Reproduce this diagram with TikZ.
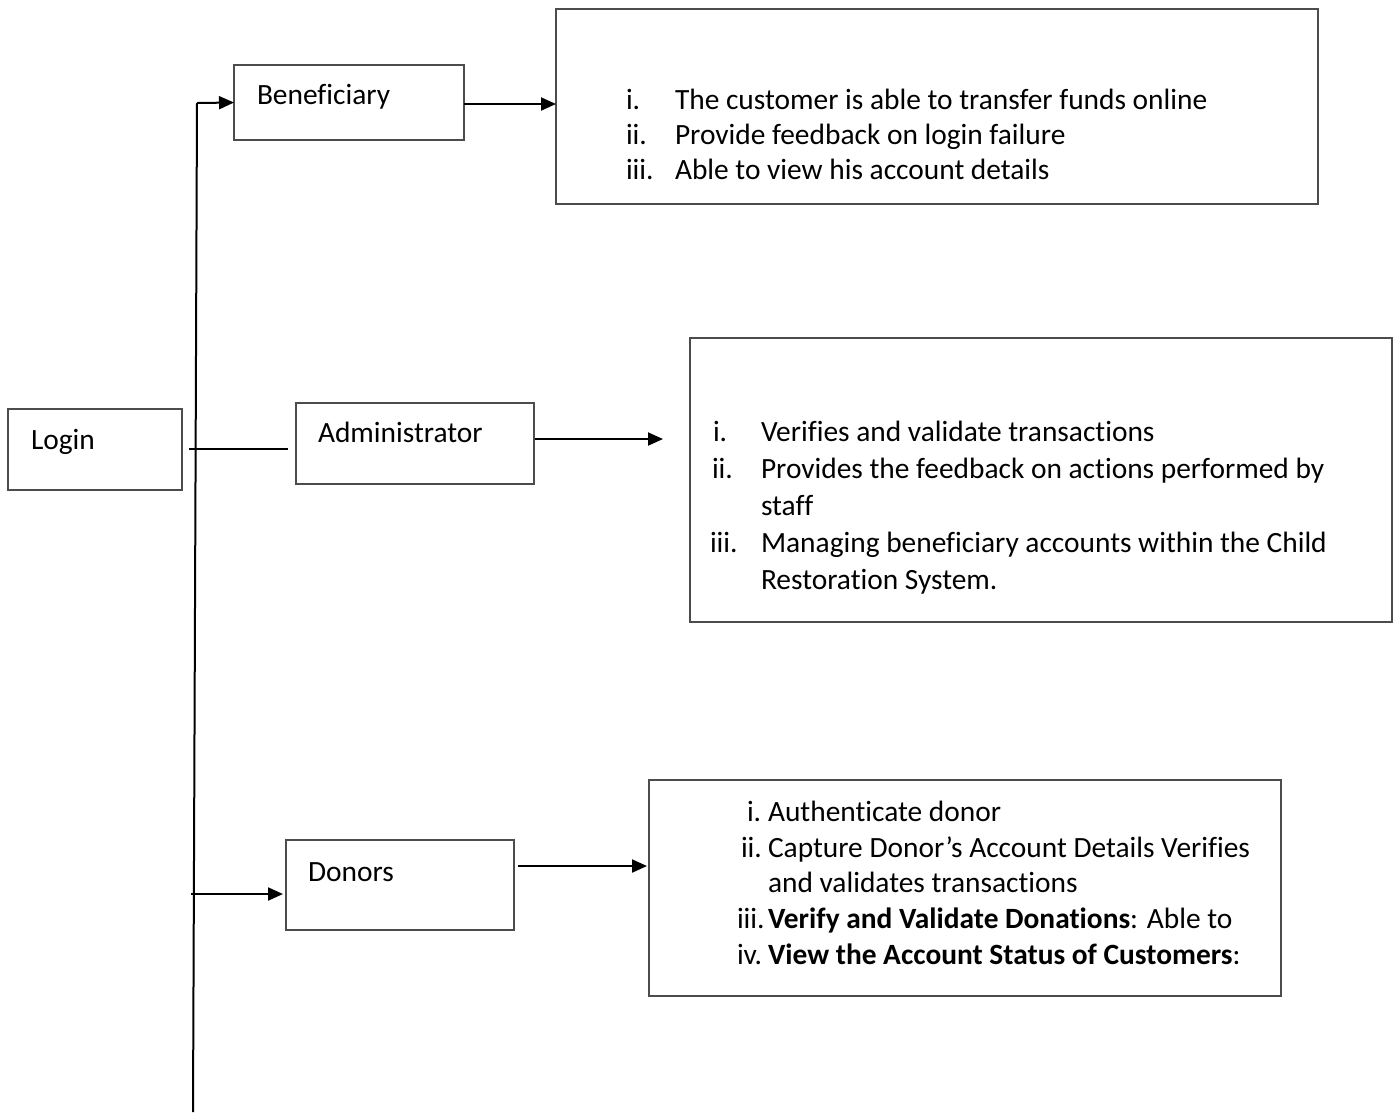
\documentclass[tikz,border=0pt]{standalone}
\usepackage{fontspec}
\setmainfont{Carlito}[Ligatures=NoCommon]
\usetikzlibrary{arrows.meta}
\begin{document}
\begin{tikzpicture}[x=0.5pt,y=-0.5pt,
  font=\fontsize{14.7pt}{17pt}\selectfont,
  box/.style={draw=black!70,line width=0.6pt,inner sep=0pt,outer sep=0pt,anchor=north west},
  txt/.style={anchor=base west,inner sep=0pt,outer sep=0pt},
  conn/.style={line width=1pt,black},
  arr/.style={conn,-{Triangle[length=7.5pt,width=6.5pt]}}]
\useasboundingbox (0,0) rectangle (1400,1116);

% boxes
\node[box,minimum width=87pt,minimum height=40.5pt] (login) at (8,409) {};
\node[box,minimum width=115pt,minimum height=37.5pt] (benef) at (234,65) {};
\node[box,minimum width=381pt,minimum height=97.5pt] (blist) at (556,9) {};
\node[box,minimum width=119pt,minimum height=40.5pt] (admin) at (296,403) {};
\node[box,minimum width=351pt,minimum height=142pt] (alist) at (690,338) {};
\node[box,minimum width=114pt,minimum height=45pt] (donor) at (286,840) {};
\node[box,minimum width=316pt,minimum height=108pt] (dlist) at (649,780) {};

% box titles
\node[txt] (tlogin) at (31,449) {Login};
\node[txt] (tbenef) at (257,104) {Beneficiary};
\node[txt] (tadmin) at (318,442) {Administrator};
\node[txt] (tdonor) at (308,881) {Donors};

% beneficiary duties
\node[txt] (b1n) at (626,109) {i.};
\node[txt] (b1) at (675,109) {The customer is able to transfer funds online};
\node[txt] (b2n) at (626,144) {ii.};
\node[txt] (b2) at (675,144) {Provide feedback on login failure};
\node[txt] (b3n) at (626,179) {iii.};
\node[txt] (b3) at (675,179) {Able to view his account details};

% administrator duties
\node[txt] (a1n) at (713,441) {i.};
\node[txt] (a1) at (761,441) {Verifies and validate transactions};
\node[txt] (a2n) at (712,478) {ii.};
\node[txt] (a2) at (761,478) {Provides the feedback on actions performed by};
\node[txt] (a2b) at (761,515) {staff};
\node[txt] (a3n) at (710,552) {iii.};
\node[txt] (a3) at (761,552) {Managing beneficiary accounts within the Child};
\node[txt] (a3b) at (761,589) {Restoration System.};

% donor duties
\node[txt] (d1n) at (747,821) {i.};
\node[txt] (d1) at (768,821) {Authenticate donor};
\node[txt] (d2n) at (741,857) {ii.};
\node[txt] (d2) at (768,857) {Capture Donor’s Account Details Verifies};
\node[txt] (d2b) at (768,892) {and validates transactions};
\node[txt] (d3n) at (737,928) {iii.};
\node[txt] (d3) at (768,928) {\textbf{Verify and Validate Donations}: Able to};
\node[txt] (d4n) at (737,964) {iv.};
\node[txt] (d4) at (768,964) {\textbf{View the Account Status of Customers}:};

% connector end points
\coordinate (trunkTop) at (197,103);
\coordinate (trunkBot) at (193,1112);
\coordinate (loginOut) at (189,449);
\coordinate (adminIn) at (288,449);
\coordinate (donorOut) at (191,894);
\coordinate (donorIn) at (283,894);
\coordinate (benefOut) at (464,104);
\coordinate (adminOut) at (535,439);
\coordinate (alistIn) at (663,439);
\coordinate (donorBoxOut) at (518,866);
\coordinate (dlistIn) at (647,866);

% connectors
\draw[conn] (trunkTop) -- (trunkBot);
\draw[arr] (trunkTop) -- (benef.west);
\draw[conn] (loginOut) -- (adminIn);
\draw[arr] (donorOut) -- (donorIn);
\draw[arr] (benefOut) -- (benefOut -| blist.west);
\draw[arr] (adminOut) -- (alistIn);
\draw[arr] (donorBoxOut) -- (dlistIn);
\end{tikzpicture}
\end{document}
